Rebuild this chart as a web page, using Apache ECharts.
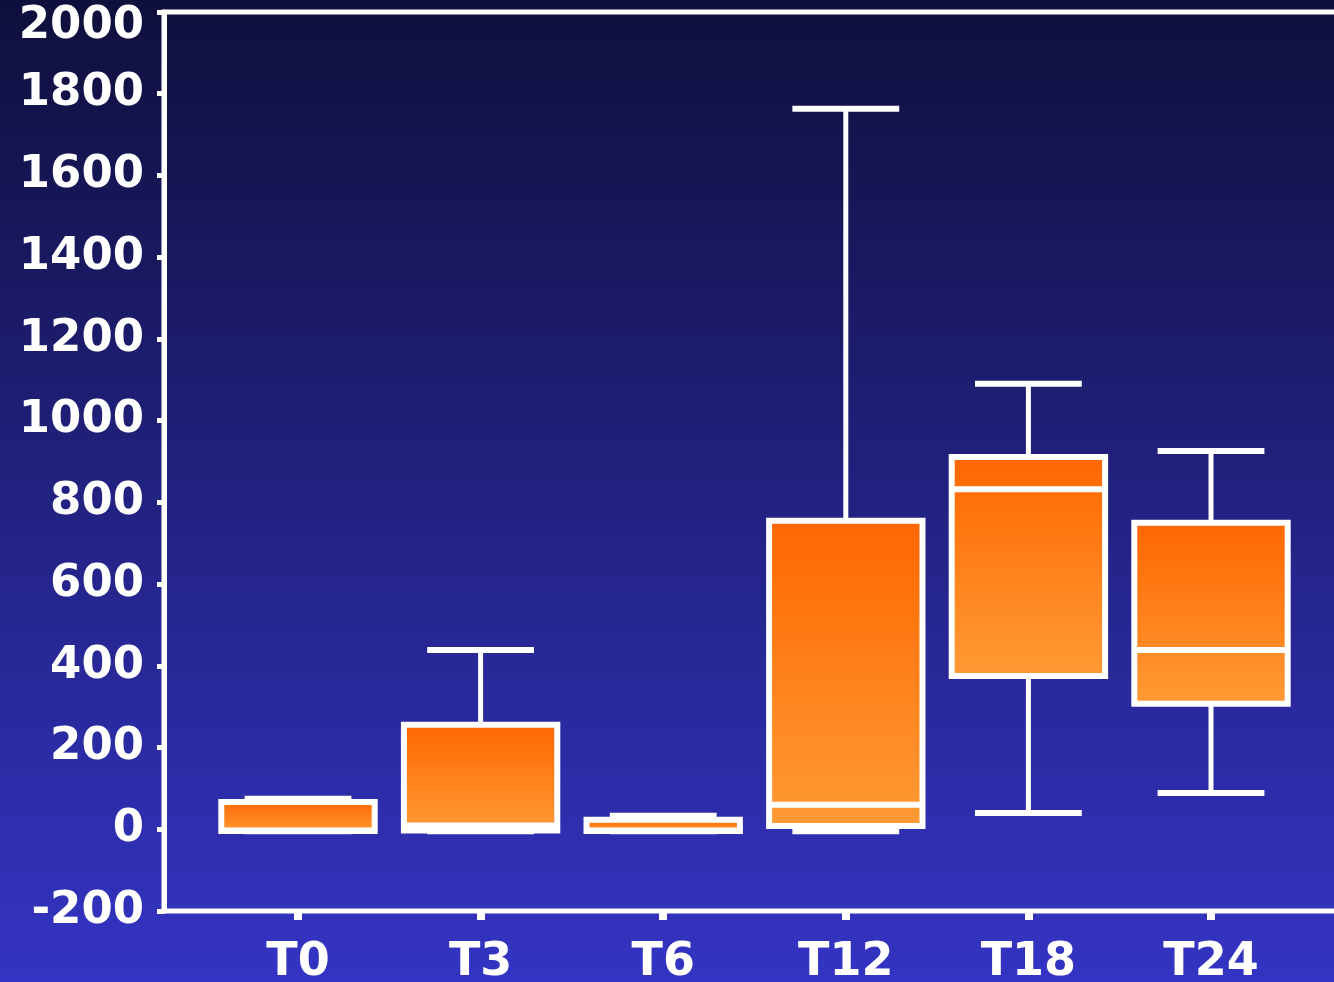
<!DOCTYPE html>
<html>
<head>
<meta charset="utf-8">
<script src="https://cdn.jsdelivr.net/npm/echarts@6/dist/echarts.min.js"></script>
<style>
  html, body { margin: 0; padding: 0; }
  #chart { width: 1334px; height: 982px; }
</style>
</head>
<body>
<div id="chart"></div>
<script>
// 时间点
const categories = ['T0', 'T3', 'T6', 'T12', 'T18', 'T24']
// 箱线图五数
const lowWhisker  = [-5, -5, -5, -5, 40, 89]
const lowQuartile = [-4, -3, -4, 8, 375, 307]
const medians     = [-3, 9, -3, 60, 832, 439]
const upQuartile  = [67, 256, 23, 755, 911, 750]
const highWhisker = [75, 439, 33, 1763, 1090, 926]
const yTicks = { min: -200, max: 2000, interval: 200 }

const chart = echarts.init(document.getElementById('chart'))

const boxData = categories.map((c, i) => [
  i, lowWhisker[i], lowQuartile[i], medians[i], upQuartile[i], highWhisker[i]
])

const white = '#ffffff'
const font = 'DejaVu Sans'

const renderBox = (params, api) => {
  const idx = api.value(0)
  const x = api.coord([idx, 0])[0]
  const band = api.size([1, 0])[0]
  const boxW = band * 0.84
  const capW = band * 0.585
  const y = (k) => api.coord([idx, api.value(k)])[1]
  const yMin = y(1), yQ1 = y(2), yMed = y(3), yQ3 = y(4), yMax = y(5)
  const line = (x1, y1, x2, y2, w) => ({
    type: 'line',
    shape: { x1, y1, x2, y2 },
    style: { stroke: white, lineWidth: w }
  })
  return {
    type: 'group',
    children: [
      line(x, yMax, x, yQ3, 5),
      line(x, yQ1, x, yMin, 5),
      line(x - capW / 2, yMax, x + capW / 2, yMax, 6),
      line(x - capW / 2, yMin, x + capW / 2, yMin, 6),
      {
        type: 'rect',
        shape: { x: x - boxW / 2, y: yQ3, width: boxW, height: yQ1 - yQ3 },
        style: {
          fill: new echarts.graphic.LinearGradient(0, 0, 0, 1, [
            { offset: 0, color: '#ff6600' },
            { offset: 1, color: '#ff9b35' }
          ]),
          stroke: white,
          lineWidth: 6
        }
      },
      line(x - boxW / 2, yMed, x + boxW / 2, yMed, 6)
    ]
  }
}

const labelStyle = { color: white, fontSize: 45, fontWeight: 'bold', fontFamily: font }

const option = {
  backgroundColor: new echarts.graphic.LinearGradient(0, 0, 0, 1, [
    { offset: 0, color: '#0f0f3c' },
    { offset: 1, color: '#3434c4' }
  ]),
  animation: false,
  grid: [
    // 外框 + y 轴
    {
      left: 164, top: 12, right: -40, bottom: 71,
      outerBoundsMode: 'none',
      show: true, borderColor: white, borderWidth: 5,
      backgroundColor: 'transparent'
    },
    // 箱体所在区域
    { left: 206.7, top: 12, right: 31.7, bottom: 71, outerBoundsMode: 'none' }
  ],
  xAxis: [
    { gridIndex: 0, type: 'value', show: false, min: 0, max: 1 },
    {
      gridIndex: 1,
      type: 'category',
      data: categories,
      axisLine: { show: false, onZero: false },
      axisTick: {
        show: true, alignWithLabel: true, length: 9,
        lineStyle: { color: white, width: 8 }
      },
      axisLabel: {
        interval: 0, color: white, fontSize: 46, fontWeight: 'bold',
        fontFamily: font, margin: 29
      },
      splitLine: { show: false }
    }
  ],
  yAxis: [
    {
      gridIndex: 0,
      type: 'value',
      min: yTicks.min, max: yTicks.max, interval: yTicks.interval,
      axisLine: { show: true, onZero: false, lineStyle: { color: white, width: 5 } },
      axisTick: { show: true, length: 7, lineStyle: { color: white, width: 5 } },
      axisLabel: {
        ...labelStyle,
        margin: 20,
        // 顶部标签下移, 避免被裁掉
        formatter: (v) => v === yTicks.max ? '{top|' + v + '}' : String(v),
        rich: { top: { ...labelStyle, padding: [28, 0, 0, 0] } }
      },
      splitLine: { show: false }
    },
    {
      gridIndex: 1,
      type: 'value',
      min: yTicks.min, max: yTicks.max, interval: yTicks.interval,
      show: false
    }
  ],
  series: [
    {
      type: 'custom',
      xAxisIndex: 1,
      yAxisIndex: 1,
      renderItem: renderBox,
      encode: { x: 0, y: [1, 2, 3, 4, 5] },
      data: boxData,
      clip: false
    }
  ]
}

chart.setOption(option)
window.addEventListener('resize', () => chart.resize())
</script>
</body>
</html>
